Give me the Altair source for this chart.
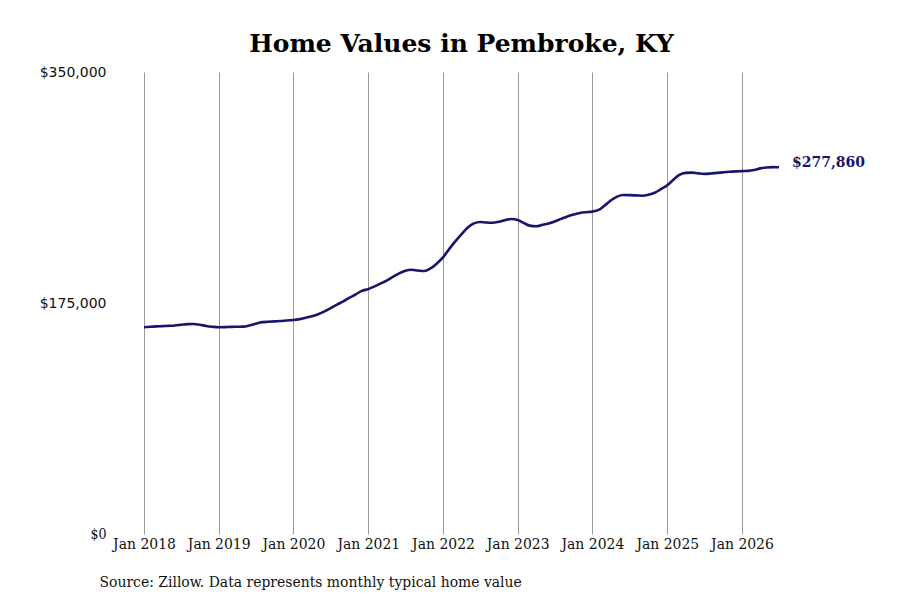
import altair as alt
import pandas as pd

# ---- data ----
start_month = "2018-01-01"
home_values = [
    # 2018
    156600, 157000, 157300, 157500, 157700, 158000, 158500, 159000, 159100, 158500, 157600, 157000,
    # 2019
    156600, 156700, 156900, 157000, 157100, 158000, 159300, 160500, 160800, 161100, 161400, 161800,
    # 2020
    162100, 162800, 163800, 165000, 166500, 168600, 171200, 173800, 176300, 179000, 181600, 184200,
    # 2021
    185500, 187600, 189700, 192000, 194700, 197500, 199500, 200200, 199600, 199200, 201200, 204800,
    # 2022
    209500, 216000, 221500, 227000, 232000, 235300, 236400, 236000, 235800, 236600, 237800, 238600,
    # 2023
    237900, 235500, 233600, 233200, 234200, 235300, 236800, 238700, 240600, 242000, 243200, 243800,
    # 2024
    244200, 245500, 248800, 252800, 255600, 256800, 256700, 256500, 256300, 257000, 258500, 261200,
    # 2025
    264200, 268500, 272000, 273600, 273800, 273200, 272800, 273100, 273600, 274000, 274400, 274700,
    # 2026
    274900, 275100, 275800, 277000, 277700, 277900, 277860,
]
y_ticks = [0, 175000, 350000]
x_tick_years = list(range(2018, 2027))
title_text = "Home Values in Pembroke, KY"
source_text = "Source: Zillow. Data represents monthly typical home value"

navy = "#17166c"
serif_cond = "DejaVu Serif Condensed, DejaVu Serif"

dates = pd.date_range(start_month, periods=len(home_values), freq="MS")
df = pd.DataFrame({"date": dates, "value": home_values})
last = df.tail(1).copy()
last["label"] = last["value"].map(lambda v: f"${v:,.0f}")

last_date = dates[-1]
x_scale = alt.Scale(domain=[
    alt.DateTime(year=2018, month=1, date=1),
    alt.DateTime(year=int(last_date.year), month=int(last_date.month), date=1),
])
y_scale = alt.Scale(domain=[0, 350000], nice=False)

x_axis = alt.Axis(
    values=[alt.DateTime(year=y, month=1, date=1) for y in x_tick_years],
    format="%b %Y",
    grid=True, gridColor="#9a9a9a", gridWidth=1,
    ticks=False, domain=False,
    labelFont=serif_cond, labelFontSize=15.5, labelColor="#111", labelPadding=2,
    labelAlign="center", labelBaseline="top",
    title=source_text, titleFont=serif_cond, titleFontSize=15.5, titleFontWeight="normal",
    titleColor="#111", titleAlign="left", titleBaseline="middle", titleAnchor="start",
    titleX=-45, titleY=47,
)
y_axis = alt.Axis(
    values=y_ticks, format="$,.0f", grid=False, ticks=False, domain=False,
    labelFont={"condition": {"test": "datum.value === 0", "value": serif_cond}, "value": "DejaVu Sans"},
    labelFontSize=14, labelColor="#111", labelPadding=38, labelBaseline="middle",
    title=None,
)

line = alt.Chart(df).mark_line(color=navy, strokeWidth=2.6, interpolate="monotone").encode(
    x=alt.X("date:T", scale=x_scale, axis=x_axis),
    y=alt.Y("value:Q", scale=y_scale, axis=y_axis),
)

label = alt.Chart(last).mark_text(
    align="left", baseline="middle", dx=13, dy=-4,
    font="DejaVu Serif", fontWeight="bold", fontSize=14, color=navy,
).encode(
    x=alt.X("date:T", scale=x_scale),
    y=alt.Y("value:Q", scale=y_scale),
    text="label:N",
)

chart = alt.layer(line, label).properties(
    width=635, height=462,
    title=alt.Title(title_text, font="DejaVu Serif", fontSize=25, fontWeight="bold",
                    color="black", anchor="middle", frame="group", baseline="alphabetic",
                    offset=19, dy=31),
    autosize=alt.AutoSizeParams(type="none"),
    padding={"left": 136, "top": 64, "right": 100, "bottom": 66},
    background="white",
).configure_view(stroke=None)

chart.save("out.html", embed_options={"renderer": "svg", "actions": False})
